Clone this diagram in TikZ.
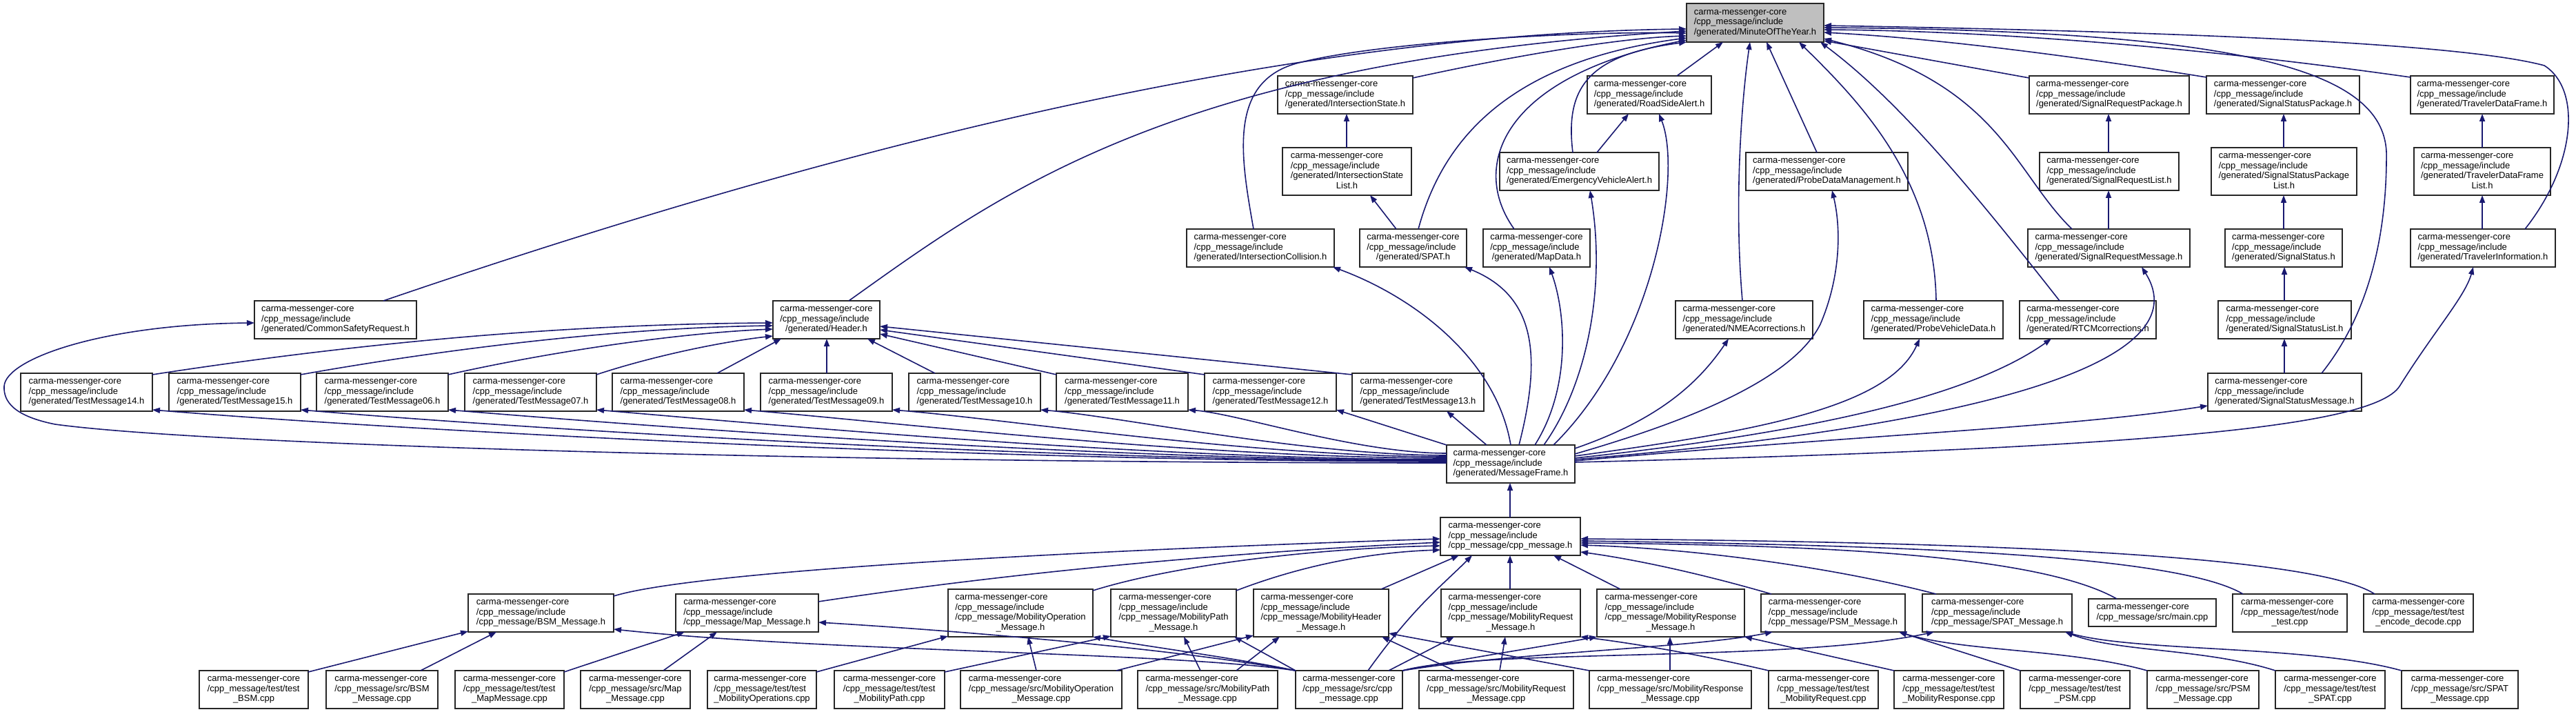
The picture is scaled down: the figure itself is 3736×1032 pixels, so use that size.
\documentclass[tikz,border=0pt]{standalone}
\usepackage{fontspec}
\setmainfont{Liberation Sans}
\usetikzlibrary{arrows.meta,calc}
\definecolor{edgec}{HTML}{191970}
\definecolor{motyg}{HTML}{BFBFBF}
\newcommand\fs{\fontsize{13pt}{14.5pt}\selectfont}
\newcommand\CMC{carma-messenger-core}
\newcommand\CMI{/cpp\_message/include}
\newcommand\CPM{/cpp\_message/}
\newcommand\GEN{/generated/}
\newcommand\lthree[3]{\begin{tabular}{@{}l@{}}#1\\#2\\\multicolumn{1}{@{}c@{}}{#3}\end{tabular}}
\newcommand\lfour[4]{\begin{tabular}{@{}l@{}}#1\\#2\\#3\\\multicolumn{1}{@{}c@{}}{#4}\end{tabular}}
\newcommand\ltwo[2]{\begin{tabular}{@{}l@{}}#1\\\multicolumn{1}{@{}c@{}}{#2}\end{tabular}}
\tikzset{
  box/.style={draw=black!85, line width=1.6pt, fill=white, inner sep=0pt, outer sep=0pt, anchor=north west, font=\fs},
  b3/.style={box, minimum height=55},
  b4/.style={box, minimum height=69},
  e/.style={draw=edgec, line width=1.6pt, -{Triangle[length=11pt,width=8pt]}}
}
\begin{document}
\begin{tikzpicture}[x=1pt,y=-1pt]
\fill[white] (0,0) rectangle (3736,1032);
\useasboundingbox (0,0) rectangle (3736,1032);
% ---------- nodes ----------
\node[b3, minimum width=199, minimum height=56, fill=motyg] (MOTY) at (2446,5) {\lthree{\CMC}{\CMI}{\GEN MinuteOfTheYear.h}};
\node[b3, minimum width=196] (IS) at (1853,110) {\lthree{\CMC}{\CMI}{\GEN IntersectionState.h}};
\node[b3, minimum width=180] (RSA) at (2302,110) {\lthree{\CMC}{\CMI}{\GEN RoadSideAlert.h}};
\node[b3, minimum width=232] (SRP) at (2943,110) {\lthree{\CMC}{\CMI}{\GEN SignalRequestPackage.h}};
\node[b3, minimum width=222] (SSP) at (3200,110) {\lthree{\CMC}{\CMI}{\GEN SignalStatusPackage.h}};
\node[b3, minimum width=208] (TDF) at (3496,110) {\lthree{\CMC}{\CMI}{\GEN TravelerDataFrame.h}};
\node[b4, minimum width=187] (ISL) at (1860,214) {\lfour{\CMC}{\CMI}{\GEN IntersectionState}{List.h}};
\node[b3, minimum width=231] (EVA) at (2175,221) {\lthree{\CMC}{\CMI}{\GEN EmergencyVehicleAlert.h}};
\node[b3, minimum width=235] (PDM) at (2532,221) {\lthree{\CMC}{\CMI}{\GEN ProbeDataManagement.h}};
\node[b3, minimum width=202] (SRL) at (2958,221) {\lthree{\CMC}{\CMI}{\GEN SignalRequestList.h}};
\node[b4, minimum width=211] (SSPL) at (3207,214) {\lfour{\CMC}{\CMI}{\GEN SignalStatusPackage}{List.h}};
\node[b4, minimum width=198] (TDFL) at (3501,214) {\lfour{\CMC}{\CMI}{\GEN TravelerDataFrame}{List.h}};
\node[b3, minimum width=214] (IC) at (1721,332) {\lthree{\CMC}{\CMI}{\GEN IntersectionCollision.h}};
\node[b3, minimum width=155] (SPAT) at (1972,332) {\lthree{\CMC}{\CMI}{\GEN SPAT.h}};
\node[b3, minimum width=155] (MD) at (2151,332) {\lthree{\CMC}{\CMI}{\GEN MapData.h}};
\node[b3, minimum width=235] (SRM) at (2941,332) {\lthree{\CMC}{\CMI}{\GEN SignalRequestMessage.h}};
\node[b3, minimum width=170] (SS) at (3227,332) {\lthree{\CMC}{\CMI}{\GEN SignalStatus.h}};
\node[b3, minimum width=210] (TI) at (3496,332) {\lthree{\CMC}{\CMI}{\GEN TravelerInformation.h}};
\node[b3, minimum width=235] (CSR) at (369,436) {\lthree{\CMC}{\CMI}{\GEN CommonSafetyRequest.h}};
\node[b3, minimum width=155] (HDR) at (1121,436) {\lthree{\CMC}{\CMI}{\GEN Header.h}};
\node[b3, minimum width=199] (NMEA) at (2430,436) {\lthree{\CMC}{\CMI}{\GEN NMEAcorrections.h}};
\node[b3, minimum width=202] (PVD) at (2703,436) {\lthree{\CMC}{\CMI}{\GEN ProbeVehicleData.h}};
\node[b3, minimum width=198] (RTCM) at (2929,436) {\lthree{\CMC}{\CMI}{\GEN RTCMcorrections.h}};
\node[b3, minimum width=193] (SSL) at (3217,436) {\lthree{\CMC}{\CMI}{\GEN SignalStatusList.h}};
\node[b3, minimum width=191] (TM14) at (30,541) {\lthree{\CMC}{\CMI}{\GEN TestMessage14.h}};
\node[b3, minimum width=191] (TM15) at (245,541) {\lthree{\CMC}{\CMI}{\GEN TestMessage15.h}};
\node[b3, minimum width=191] (TM06) at (459,541) {\lthree{\CMC}{\CMI}{\GEN TestMessage06.h}};
\node[b3, minimum width=191] (TM07) at (674,541) {\lthree{\CMC}{\CMI}{\GEN TestMessage07.h}};
\node[b3, minimum width=191] (TM08) at (888,541) {\lthree{\CMC}{\CMI}{\GEN TestMessage08.h}};
\node[b3, minimum width=191] (TM09) at (1103,541) {\lthree{\CMC}{\CMI}{\GEN TestMessage09.h}};
\node[b3, minimum width=191] (TM10) at (1318,541) {\lthree{\CMC}{\CMI}{\GEN TestMessage10.h}};
\node[b3, minimum width=191] (TM11) at (1532,541) {\lthree{\CMC}{\CMI}{\GEN TestMessage11.h}};
\node[b3, minimum width=191] (TM12) at (1747,541) {\lthree{\CMC}{\CMI}{\GEN TestMessage12.h}};
\node[b3, minimum width=191] (TM13) at (1961,541) {\lthree{\CMC}{\CMI}{\GEN TestMessage13.h}};
\node[b3, minimum width=223] (SSM) at (3202,541) {\lthree{\CMC}{\CMI}{\GEN SignalStatusMessage.h}};
\node[b3, minimum width=186] (MF) at (2098,645) {\lthree{\CMC}{\CMI}{\GEN MessageFrame.h}};
\node[b3, minimum width=203] (CPH) at (2089,750) {\lthree{\CMC}{\CMI}{\CPM cpp\_message.h}};
\node[b3, minimum width=211] (BSMH) at (679,861) {\lthree{\CMC}{\CMI}{\CPM BSM\_Message.h}};
\node[b3, minimum width=207] (MAPH) at (980,861) {\lthree{\CMC}{\CMI}{\CPM Map\_Message.h}};
\node[b4, minimum width=210] (MOPH) at (1375,854) {\lfour{\CMC}{\CMI}{\CPM MobilityOperation}{\_Message.h}};
\node[b4, minimum width=182] (MPATH) at (1611,854) {\lfour{\CMC}{\CMI}{\CPM MobilityPath}{\_Message.h}};
\node[b4, minimum width=196] (MHDH) at (1818,854) {\lfour{\CMC}{\CMI}{\CPM MobilityHeader}{\_Message.h}};
\node[b4, minimum width=202] (MREQH) at (2090,854) {\lfour{\CMC}{\CMI}{\CPM MobilityRequest}{\_Message.h}};
\node[b4, minimum width=214] (MRESH) at (2316,854) {\lfour{\CMC}{\CMI}{\CPM MobilityResponse}{\_Message.h}};
\node[b3, minimum width=209] (PSMH) at (2554,861) {\lthree{\CMC}{\CMI}{\CPM PSM\_Message.h}};
\node[b3, minimum width=217] (SPATH) at (2788,861) {\lthree{\CMC}{\CMI}{\CPM SPAT\_Message.h}};
\node[box, minimum width=185, minimum height=40] (MAIN) at (3029,868) {\ltwo{\CMC}{\CPM src/main.cpp}};
\node[b3, minimum width=166] (NODE) at (3238,861) {\lthree{\CMC}{\CPM test/node}{\_test.cpp}};
\node[b3, minimum width=159] (ENC) at (3428,861) {\lthree{\CMC}{\CPM test/test}{\_encode\_decode.cpp}};
\node[b3, minimum width=158] (TBSM) at (289,972) {\lthree{\CMC}{\CPM test/test}{\_BSM.cpp}};
\node[b3, minimum width=162] (BSMC) at (473,972) {\lthree{\CMC}{\CPM src/BSM}{\_Message.cpp}};
\node[b3, minimum width=158] (TMAP) at (660,972) {\lthree{\CMC}{\CPM test/test}{\_MapMessage.cpp}};
\node[b3, minimum width=159] (MAPC) at (842,972) {\lthree{\CMC}{\CPM src/Map}{\_Message.cpp}};
\node[b3, minimum width=158] (TMOPS) at (1026,972) {\lthree{\CMC}{\CPM test/test}{\_MobilityOperations.cpp}};
\node[b3, minimum width=160] (TMPATH) at (1210,972) {\lthree{\CMC}{\CPM test/test}{\_MobilityPath.cpp}};
\node[b3, minimum width=234] (MOPC) at (1393,972) {\lthree{\CMC}{\CPM src/MobilityOperation}{\_Message.cpp}};
\node[b3, minimum width=203] (MPATHC) at (1650,972) {\lthree{\CMC}{\CPM src/MobilityPath}{\_Message.cpp}};
\node[b3, minimum width=155] (CPPC) at (1879,972) {\lthree{\CMC}{\CPM src/cpp}{\_message.cpp}};
\node[b3, minimum width=224] (MREQC) at (2058,972) {\lthree{\CMC}{\CPM src/MobilityRequest}{\_Message.cpp}};
\node[b3, minimum width=235] (MRESC) at (2305,972) {\lthree{\CMC}{\CPM src/MobilityResponse}{\_Message.cpp}};
\node[b3, minimum width=159] (TMREQ) at (2565,972) {\lthree{\CMC}{\CPM test/test}{\_MobilityRequest.cpp}};
\node[b3, minimum width=159] (TMRES) at (2747,972) {\lthree{\CMC}{\CPM test/test}{\_MobilityResponse.cpp}};
\node[b3, minimum width=159] (TPSM) at (2930,972) {\lthree{\CMC}{\CPM test/test}{\_PSM.cpp}};
\node[b3, minimum width=162] (PSMC) at (3114,972) {\lthree{\CMC}{\CPM src/PSM}{\_Message.cpp}};
\node[b3, minimum width=159] (TSPAT) at (3300,972) {\lthree{\CMC}{\CPM test/test}{\_SPAT.cpp}};
\node[b3, minimum width=169] (SPATC) at (3483,972) {\lthree{\CMC}{\CPM src/SPAT}{\_Message.cpp}};
% ---------- edges into MinuteOfTheYear ----------
\draw[e] ($(CSR.north west)+(187,0)$) .. controls (1100,250) and (1800,50) .. ($(MOTY.north west)+(0,37)$);
\draw[e] ($(HDR.north west)+(110,0)$) .. controls (1450,280) and (1700,90) .. ($(MOTY.north west)+(0,40)$);
\draw[e] ($(IC.north west)+(97,0)$) .. controls (1800,230) and (1780,120) .. (1880,92) .. controls (2000,60) and (2300,45) .. ($(MOTY.north west)+(0,43)$);
\draw[e] ($(IS.north east)+(0,3)$) .. controls (2200,80) and (2350,55) .. ($(MOTY.north west)+(0,47)$);
\draw[e] ($(SPAT.north west)+(85,0)$) .. controls (2090,210) and (2180,90) .. ($(MOTY.north west)+(0,50)$);
\draw[e] ($(MD.north west)+(45,0)$) .. controls (2130,240) and (2180,110) .. ($(MOTY.north west)+(0,53)$);
\draw[e] ($(EVA.north west)+(106,0)$) .. controls (2270,130) and (2300,80) .. ($(MOTY.north west)+(0,56)$);
\draw[e] ($(RSA.north west)+(130,0)$) -- ($(MOTY.north west)+(53,56)$);
\draw[e] ($(NMEA.north west)+(97,0)$) .. controls (2515,300) and (2525,150) .. ($(MOTY.north west)+(92,56)$);
\draw[e] ($(PDM.north west)+(103,0)$) -- ($(MOTY.north west)+(116,56)$);
\draw[e] ($(PVD.north west)+(105,0)$) .. controls (2805,260) and (2700,150) .. ($(MOTY.north west)+(163,56)$);
\draw[e] ($(RTCM.north west)+(58,0)$) .. controls (2880,300) and (2760,150) .. ($(MOTY.north west)+(194,56)$);
\draw[e] ($(SRM.north west)+(64,0)$) .. controls (2920,250) and (2900,120) .. ($(MOTY.north west)+(199,51)$);
\draw[e] ($(SRP.north west)+(0,3)$) -- ($(MOTY.north west)+(199,54)$);
\draw[e] ($(SSP.north west)+(0,2)$) .. controls (3000,80) and (2800,55) .. ($(MOTY.north west)+(199,42)$);
\draw[e] ($(TDF.north west)+(0,2)$) .. controls (3200,70) and (2900,45) .. ($(MOTY.north west)+(199,38)$);
\draw[e] ($(SSM.north west)+(165,0)$) .. controls (3440,450) and (3462,330) .. (3461,220) .. controls (3455,100) and (3250,45) .. ($(MOTY.north west)+(199,35)$);
\draw[e] ($(TI.north west)+(166,0)$) .. controls (3735,240) and (3745,130) .. (3690,95) .. controls (3560,60) and (3100,45) .. ($(MOTY.north west)+(199,32)$);
% ---------- chains ----------
\draw[e] ($(ISL.north west)+(93,0)$) -- ($(IS.north west)+(100,55)$);
\draw[e] ($(SPAT.north west)+(53,0)$) -- ($(ISL.north west)+(127,69)$);
\draw[e] ($(EVA.north west)+(141,0)$) -- ($(RSA.north west)+(60,55)$);
\draw[e] ($(SRL.north west)+(100,0)$) -- ($(SRP.north west)+(115,55)$);
\draw[e] ($(SRM.north west)+(117,0)$) -- ($(SRL.north west)+(100,55)$);
\draw[e] ($(SSPL.north west)+(105,0)$) -- ($(SSP.north west)+(112,55)$);
\draw[e] ($(SS.north west)+(85,0)$) -- ($(SSPL.north west)+(105,69)$);
\draw[e] ($(SSL.north west)+(96,0)$) -- ($(SS.north west)+(86,55)$);
\draw[e] ($(SSM.north west)+(111,0)$) -- ($(SSL.north west)+(96,55)$);
\draw[e] ($(TDFL.north west)+(99,0)$) -- ($(TDF.north west)+(104,55)$);
\draw[e] ($(TI.north west)+(104,0)$) -- ($(TDFL.north west)+(99,69)$);
% ---------- from MessageFrame upward ----------
\draw[e] ($(MF.north west)+(155,0)$) .. controls (2400,500) and (2440,250) .. ($(RSA.north west)+(104,55)$);
\draw[e] ($(MF.north west)+(141,0)$) .. controls (2300,560) and (2330,420) .. ($(EVA.north west)+(131,55)$);
\draw[e] ($(MF.north west)+(128,0)$) .. controls (2280,560) and (2270,450) .. ($(MD.north west)+(96,55)$);
\draw[e] ($(MF.north west)+(105,0)$) .. controls (2235,520) and (2230,430) .. ($(SPAT.north west)+(152,55)$);
\draw[e] ($(MF.north west)+(93,0)$) .. controls (2170,520) and (2050,430) .. ($(IC.north west)+(212,55)$);
\draw[e] ($(MF.north west)+(58,0)$) -- ($(TM13.north west)+(137,55)$);
\draw[e] (MF.north west) -- ($(TM12.south east)+(0,-2)$);
\draw[e] ($(MF.north west)+(0,12)$) .. controls (1967,657) and (1798,600) .. ($(TM11.south east)+(0,-2)$);
\draw[e] ($(MF.north west)+(0,15)$) .. controls (1892,660) and (1627,604) .. ($(TM10.south east)+(0,-2)$);
\draw[e] ($(MF.north west)+(0,17)$) .. controls (1817,662) and (1455,607) .. ($(TM09.south east)+(0,-2)$);
\draw[e] ($(MF.north west)+(0,19)$) .. controls (1741,664) and (1283,611) .. ($(TM08.south east)+(0,-2)$);
\draw[e] ($(MF.north west)+(0,21)$) .. controls (1666,666) and (1112,615) .. ($(TM07.south east)+(0,-2)$);
\draw[e] ($(MF.north west)+(0,22)$) .. controls (1591,667) and (940,618) .. ($(TM06.south east)+(0,-2)$);
\draw[e] ($(MF.north west)+(0,23)$) .. controls (1516,668) and (768,622) .. ($(TM15.south east)+(0,-2)$);
\draw[e] ($(MF.north west)+(0,24)$) .. controls (1441,669) and (596,625) .. ($(TM14.south east)+(0,-2)$);
\draw[e] ($(MF.north west)+(0,26)$) .. controls (1200,671) and (300,645) .. (80,615) .. controls (20,603) and (5,582) .. (6,560) .. controls (8,520) and (150,470) .. ($(CSR.north west)+(0,32)$);
\draw[e] ($(MF.north east)+(0,5)$) .. controls (2400,610) and (2460,560) .. ($(NMEA.north west)+(77,55)$);
\draw[e] ($(MF.north east)+(0,13)$) .. controls (2450,610) and (2600,550) .. (2640,470) .. controls (2670,400) and (2670,330) .. ($(PDM.north west)+(125,55)$);
\draw[e] ($(MF.north east)+(0,16)$) .. controls (2550,625) and (2740,590) .. ($(PVD.north west)+(81,55)$);
\draw[e] ($(MF.north east)+(0,19)$) .. controls (2600,630) and (2850,580) .. ($(RTCM.north west)+(46,55)$);
\draw[e] ($(MF.north east)+(0,21)$) .. controls (2900,615) and (3190,520) .. ($(SRM.north west)+(165,55)$);
\draw[e] ($(MF.north east)+(0,23)$) .. controls (2700,630) and (3000,620) .. ($(SSM.north west)+(0,47)$);
\draw[e] ($(MF.north east)+(0,25)$) .. controls (3100,650) and (3440,620) .. (3480,560) .. controls (3530,480) and (3575,430) .. ($(TI.north west)+(91,55)$);
% ---------- TestMessages into Header ----------
\draw[e] ($(TM14.north east)+(0,2)$) .. controls (500,500) and (800,470) .. ($(HDR.north west)+(0,32)$);
\draw[e] ($(TM15.north east)+(0,2)$) .. controls (650,505) and (900,475) .. ($(HDR.north west)+(0,36)$);
\draw[e] ($(TM06.north east)+(0,2)$) .. controls (820,505) and (1000,482) .. ($(HDR.north west)+(0,41)$);
\draw[e] ($(TM07.north east)+(0,2)$) .. controls (950,515) and (1050,495) .. ($(HDR.north west)+(0,51)$);
\draw[e] ($(TM08.north west)+(152,0)$) -- ($(HDR.north west)+(12,55)$);
\draw[e] ($(TM09.north west)+(96,0)$) -- ($(HDR.north west)+(78,55)$);
\draw[e] ($(TM10.north west)+(38,0)$) -- ($(HDR.north west)+(137,55)$);
\draw[e] ($(TM11.north west)+(0,2)$) -- ($(HDR.north west)+(155,48)$);
\draw[e] ($(TM12.north west)+(0,2)$) -- ($(HDR.north west)+(155,42)$);
\draw[e] ($(TM13.north west)+(0,2)$) -- ($(HDR.north west)+(155,37)$);
% ---------- cpp_message.h ----------
\draw[e] ($(CPH.north west)+(101,0)$) -- ($(MF.north west)+(92,55)$);
\draw[e] ($(BSMH.north east)+(0,3)$) .. controls (1000,830) and (1500,800) .. ($(CPH.north west)+(0,31)$);
\draw[e] ($(MAPH.north east)+(0,11)$) .. controls (1400,840) and (1700,805) .. ($(CPH.north west)+(0,36)$);
\draw[e] ($(MOPH.north east)+(0,2)$) .. controls (1700,820) and (1900,795) .. ($(CPH.north west)+(0,41)$);
\draw[e] ($(MPATH.north east)+(0,2)$) .. controls (1900,815) and (2000,800) .. ($(CPH.north west)+(0,47)$);
\draw[e] ($(MHDH.north west)+(185,0)$) -- ($(CPH.north west)+(27,55)$);
\draw[e] ($(CPPC.north west)+(105,0)$) .. controls (2050,880) and (2090,850) .. ($(CPH.north west)+(46,55)$);
\draw[e] ($(MREQH.north west)+(100,0)$) -- ($(CPH.north west)+(101,55)$);
\draw[e] ($(MRESH.north west)+(34,0)$) -- ($(CPH.north west)+(164,55)$);
\draw[e] ($(PSMH.north west)+(15,0)$) .. controls (2480,835) and (2380,812) .. ($(CPH.north east)+(0,50)$);
\draw[e] ($(SPATH.north west)+(20,0)$) .. controls (2650,820) and (2450,795) .. ($(CPH.north east)+(0,40)$);
\draw[e] ($(MAIN.north west)+(41,0)$) .. controls (2950,800) and (2600,790) .. ($(CPH.north east)+(0,37)$);
\draw[e] ($(NODE.north west)+(15,0)$) .. controls (3150,800) and (2700,790) .. ($(CPH.north east)+(0,34)$);
\draw[e] ($(ENC.north west)+(16,0)$) .. controls (3350,800) and (2800,785) .. ($(CPH.north east)+(0,31)$);
% ---------- bottom row ----------
\draw[e] ($(TBSM.north east)+(0,2)$) -- ($(BSMH.south west)+(0,-1)$);
\draw[e] ($(BSMC.north west)+(137,0)$) -- ($(BSMH.north west)+(41,55)$);
\draw[e] ($(TMAP.north east)+(0,2)$) -- ($(MAPH.north west)+(13,55)$);
\draw[e] ($(MAPC.north west)+(120,0)$) -- ($(MAPH.north west)+(60,55)$);
\draw[e] ($(TMOPS.north east)+(0,2)$) -- ($(MOPH.south west)+(0,-1)$);
\draw[e] ($(TMPATH.north east)+(0,2)$) -- ($(MPATH.south west)+(0,-1)$);
\draw[e] ($(MOPC.north west)+(110,0)$) -- ($(MOPH.north west)+(116,69)$);
\draw[e] ($(MOPC.north east)+(-8,0)$) -- ($(MHDH.south west)+(0,-2)$);
\draw[e] ($(MPATHC.north west)+(91,0)$) -- ($(MPATH.north west)+(106,69)$);
\draw[e] ($(MPATHC.north west)+(143,0)$) -- ($(MHDH.north west)+(38,69)$);
\draw[e] (CPPC.north west) -- ($(MPATH.south east)+(-3,0)$);
\draw[e] (CPPC.north west) .. controls (1800,955) and (1650,935) .. (MOPH.south east);
\draw[e] (CPPC.north west) .. controls (1700,940) and (1400,915) .. ($(MAPH.south east)+(0,-14)$);
\draw[e] (CPPC.north west) .. controls (1700,945) and (1200,945) .. ($(BSMH.south east)+(0,-4)$);
\draw[e] ($(CPPC.north west)+(135,0)$) -- ($(MREQH.north west)+(19,69)$);
\draw[e] (CPPC.north east) .. controls (2150,950) and (2250,935) .. (MRESH.south west);
\draw[e] (CPPC.north east) .. controls (2200,945) and (2450,940) .. ($(PSMH.north west)+(17,55)$);
\draw[e] (CPPC.north east) .. controls (2150,940) and (2600,960) .. ($(SPATH.north west)+(17,55)$);
\draw[e] ($(MREQC.north west)+(117,0)$) -- ($(MREQH.north west)+(93,69)$);
\draw[e] ($(MREQC.north west)+(51,0)$) -- ($(MHDH.north west)+(186,69)$);
\draw[e] ($(MRESC.north west)+(117,0)$) -- ($(MRESH.north west)+(106,69)$);
\draw[e] (MRESC.north west) -- ($(MHDH.north east)+(0,64)$);
\draw[e] (TMREQ.north west) .. controls (2450,945) and (2350,930) .. (MREQH.south east);
\draw[e] (TMRES.north west) -- (MRESH.south east);
\draw[e] (TPSM.north west) -- ($(PSMH.south east)+(-9,0)$);
\draw[e] (PSMC.north west) .. controls (3000,940) and (2850,945) .. ($(PSMH.south east)+(-9,0)$);
\draw[e] (TSPAT.north west) .. controls (3200,940) and (3070,945) .. ($(SPATH.south east)+(-10,0)$);
\draw[e] (SPATC.north west) .. controls (3350,935) and (3100,945) .. ($(SPATH.south east)+(-10,0)$);
\end{tikzpicture}
\end{document}
